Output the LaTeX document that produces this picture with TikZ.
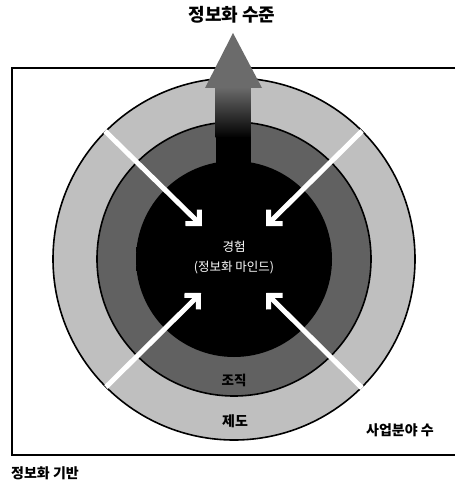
\documentclass[tikz,border=0pt]{standalone}
\usepackage{fontspec}
\newfontfamily\kr{Noto Sans CJK KR}
\usetikzlibrary{arrows.meta}
\pgfdeclareradialshading{coreshade}{\pgfpoint{0bp}{0bp}}{color(0bp)=(black); color(38bp)=(black); color(45bp)=(black!90); color(50bp)=(black!65)}
\pgfdeclareradialshading{midshade}{\pgfpoint{0bp}{0bp}}{color(0bp)=(black!62); color(35bp)=(black!62); color(42bp)=(black!50); color(50bp)=(black!42)}
\pgfdeclareradialshading{outshade}{\pgfpoint{0bp}{0bp}}{color(0bp)=(black!25); color(37bp)=(black!25); color(44bp)=(black!19); color(50bp)=(black!17)}
\tikzset{
  lbl/.style={font=\kr\bfseries, inner sep=0pt, text=black},
  inward/.style={draw=white, line width=5pt, -{Straight Barb[angle=90:14pt]}},
  ring/.style={draw=black, line width=1.6pt},
}
\begin{document}
\begin{tikzpicture}[x=1pt,y=-1pt]
\useasboundingbox (0,0) rectangle (455,486);
\fill[white] (0,0) rectangle (455,486);
% frame
\draw[line width=1.8pt] (455,68) -- (12,68) -- (12,455) -- (455,455);
% rings
\coordinate (c) at (234,259);
\shade[shading=outshade, ring] (c) circle [radius=181];
\shade[shading=midshade, ring] (c) circle [radius=137];
\shade[shading=coreshade] (c) circle [radius=98];
% upward arrow
\shade[top color=black!58, bottom color=black] (215.5,87) rectangle (250.5,138);
\fill[black] (215.5,137.5) rectangle (250.5,259);
\fill[black!58] (205,88) -- (233,33) -- (262,88) -- cycle;
% inward white arrows
\coordinate (ul0) at (105,131);
\coordinate (ur0) at (362,131);
\coordinate (ll0) at (106,387);
\coordinate (lr0) at (362,388);
\coordinate (ul1) at (202,226);
\coordinate (ur1) at (266,226);
\coordinate (ll1) at (201,293);
\coordinate (lr1) at (266,293);
\draw[inward] (ul0) -- (ul1);
\draw[inward] (ur0) -- (ur1);
\draw[inward] (ll0) -- (ll1);
\draw[inward] (lr0) -- (lr1);
% texts
\node[lbl, font=\kr\bfseries\fontsize{18}{20}\selectfont] (title) at (232,15) {정보화 수준};
\node[inner sep=0pt, text=white, font=\kr\fontsize{12.5}{14}\selectfont] (exp) at (234,247) {경험};
\node[inner sep=0pt, text=white, font=\kr\fontsize{12.5}{14}\selectfont] (mind) at (234,268) {(정보화 마인드)};
\node[lbl, font=\kr\bfseries\fontsize{13.5}{15}\selectfont] (org) at (234,380) {조직};
\node[lbl, font=\kr\bfseries\fontsize{14}{16}\selectfont] (sys) at (235,421) {제도};
\node[lbl, font=\kr\bfseries\fontsize{14}{16}\selectfont] (biz) at (400,430) {사업분야 수};
\node[lbl, font=\kr\bfseries\fontsize{14}{16}\selectfont, anchor=west] (base) at (11,473) {정보화 기반};
\end{tikzpicture}
\end{document}
